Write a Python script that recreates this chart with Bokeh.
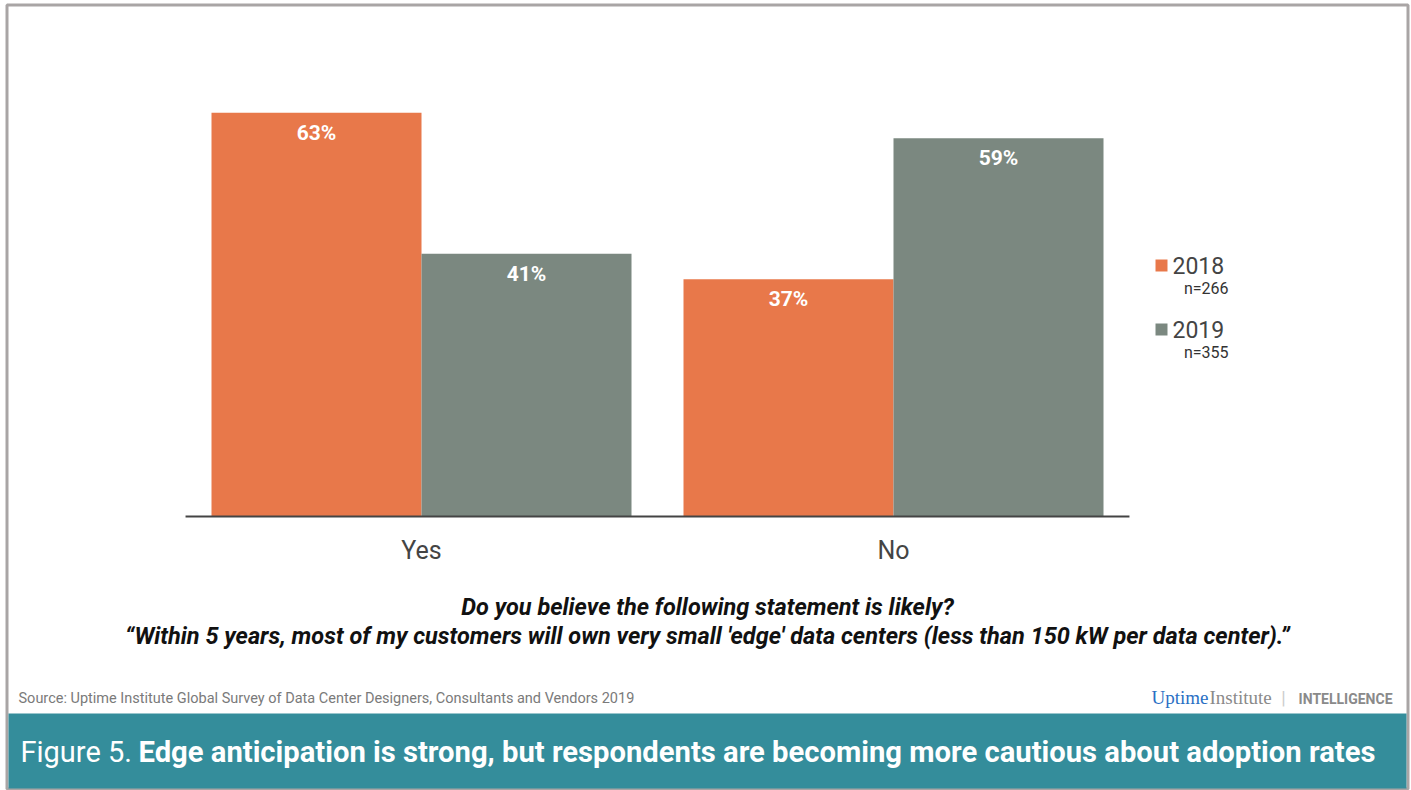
from bokeh.plotting import figure
from bokeh.models import Range1d, Label, BoxAnnotation, ColumnDataSource
from bokeh.core.properties import value
from bokeh.embed import file_html
from bokeh.resources import INLINE

# ---- data ----
categories = ["Yes", "No"]
series = ["2018", "2019"]
sample_sizes = ["n=266", "n=355"]
values_2018 = [63, 37]
values_2019 = [41, 59]
colors = ["#e8784a", "#7b8880"]

question_line1 = "Do you believe the following statement is likely?"
question_line2 = "\u201cWithin 5 years, most of my customers will own very small 'edge' data centers (less than 150 kW per data center).\u201d"
source_text = "Source: Uptime Institute Global Survey of Data Center Designers, Consultants and Vendors 2019"
title_prefix = "Figure 5."
title_main = "Edge anticipation is strong, but respondents are becoming more cautious about adoption rates"

W, H = 1411, 790
FONT = "Roboto"

# pixel geometry of the chart area
px_per_unit = 472.0          # distance between group centres
first_group_px = 421.0
px_per_pct = 6.41
baseline_px = 516.0          # from top

p = figure(width=W, height=H, output_backend="svg", toolbar_location=None,
           min_border=0, min_border_left=0, min_border_right=0,
           min_border_top=0, min_border_bottom=0,
           x_range=Range1d(-first_group_px / px_per_unit, (W - first_group_px) / px_per_unit),
           y_range=Range1d(-(H - baseline_px) / px_per_pct, baseline_px / px_per_pct))
p.axis.visible = False
p.grid.visible = False
p.outline_line_color = None
p.background_fill_color = "white"
p.border_fill_color = "white"

def sy(top):
    return H - top

# outer frame and teal title band
p.add_layout(BoxAnnotation(left=6.5, right=1407.5, bottom=sy(788.5), top=sy(4.5),
                           left_units="screen", right_units="screen",
                           bottom_units="screen", top_units="screen",
                           fill_color=None, line_color="#a9a5a5", line_alpha=1,
                           line_width=3))
p.add_layout(BoxAnnotation(left=8, right=1406, bottom=sy(788), top=sy(713),
                           left_units="screen", right_units="screen",
                           bottom_units="screen", top_units="screen",
                           fill_color="#348d9b", fill_alpha=1, line_color=None))

bar_w = 210.0 / px_per_unit
xs = list(range(len(categories)))
offsets = [-bar_w / 2, bar_w / 2]
vals = [values_2018, values_2019]

for i, s in enumerate(series):
    src = ColumnDataSource(dict(x=[x + offsets[i] for x in xs], top=vals[i],
                                lab=[f"{v}%" for v in vals[i]]))
    p.vbar(x="x", top="top", bottom=0, width=bar_w, source=src,
           fill_color=colors[i], line_color=None)
    p.text(x="x", y="top", text="lab", source=src, y_offset=20,
           text_align="center", text_baseline="middle",
           text_color="white", text_font=value(FONT), text_font_style="bold",
           text_font_size="21px")

# x axis line and category labels
pad = 0.055
p.segment(x0=[xs[0] - bar_w - pad], x1=[xs[-1] + bar_w + pad], y0=[0], y1=[0],
          line_color="#444444", line_width=2)
p.text(x=xs, y=[0] * len(xs), text=categories, y_offset=34,
       text_align="center", text_baseline="middle", text_color="#444444",
       text_font=value(FONT), text_font_size="25px")

# legend
leg_tops = [265, 329]
for i, s in enumerate(series):
    c = leg_tops[i]
    p.add_layout(BoxAnnotation(left=1155, right=1167, bottom=sy(c + 6), top=sy(c - 6),
                               left_units="screen", right_units="screen",
                               bottom_units="screen", top_units="screen",
                               fill_color=colors[i], fill_alpha=1, line_color=None))
    p.add_layout(Label(x=1172, y=sy(c), x_units="screen", y_units="screen", text=s,
                       text_font=FONT, text_font_size="23px", text_color="#444444",
                       text_baseline="middle", text_align="left"))
    p.add_layout(Label(x=1228, y=sy(c + 23), x_units="screen", y_units="screen",
                       text=sample_sizes[i], text_font=FONT, text_font_size="16px",
                       text_color="#333333", text_baseline="middle", text_align="right"))

# question text
for txt, cy in [(question_line1, 606), (question_line2, 635)]:
    p.add_layout(Label(x=707, y=sy(cy), x_units="screen", y_units="screen", text=txt,
                       text_font=FONT, text_font_style="bold italic",
                       text_font_size="23.5px", text_color="#111111",
                       text_baseline="middle", text_align="center"))

# source
p.add_layout(Label(x=18, y=sy(698), x_units="screen", y_units="screen", text=source_text,
                   text_font=FONT, text_font_size="14.5px", text_color="#7a7a7a",
                   text_baseline="middle", text_align="left"))

# logo
p.add_layout(Label(x=1151, y=sy(697), x_units="screen", y_units="screen", text="Uptime",
                   text_font="Liberation Serif", text_font_size="19px", text_color="#2a6fc4",
                   text_baseline="middle", text_align="left"))
p.add_layout(Label(x=1209, y=sy(697), x_units="screen", y_units="screen", text="Institute",
                   text_font="Liberation Serif", text_font_size="19px", text_color="#8a8a8a",
                   text_baseline="middle", text_align="left"))
p.add_layout(Label(x=1283, y=sy(697), x_units="screen", y_units="screen", text="|",
                   text_font=FONT, text_font_size="18px", text_color="#cccccc",
                   text_baseline="middle", text_align="center"))
p.add_layout(Label(x=1392, y=sy(698), x_units="screen", y_units="screen", text="INTELLIGENCE",
                   text_font=FONT, text_font_style="bold", text_font_size="14px",
                   text_color="#8a8a8a", text_baseline="middle", text_align="right"))

# title
p.add_layout(Label(x=20, y=sy(751), x_units="screen", y_units="screen", text=title_prefix,
                   text_font=FONT, text_font_size="29px", text_color="white",
                   text_baseline="middle", text_align="left"))
p.add_layout(Label(x=138, y=sy(751), x_units="screen", y_units="screen", text=title_main,
                   text_font=FONT, text_font_style="bold", text_font_size="29.2px",
                   text_color="white", text_baseline="middle", text_align="left"))

open("out.html", "w").write(file_html(p, INLINE))
